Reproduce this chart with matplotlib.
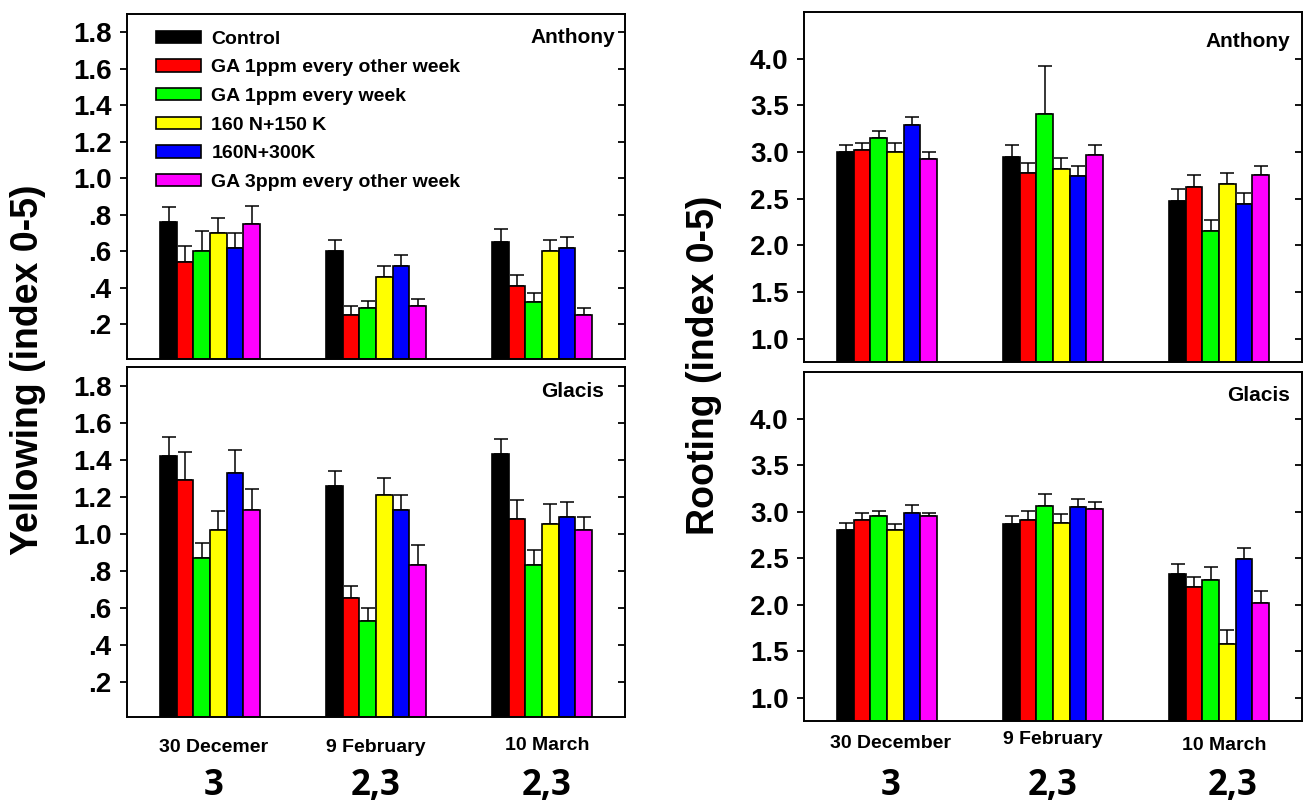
import numpy as np
import matplotlib
matplotlib.use("Agg")
import matplotlib.pyplot as plt
from matplotlib.patches import Patch
import matplotlib.transforms as mtransforms

plt.rcParams['font.family'] = ['Liberation Sans', 'DejaVu Sans']
plt.rcParams['font.weight'] = 'bold'

treatments = ["Control", "GA 1ppm every other week", "GA 1ppm every week",
              "160 N+150 K", "160N+300K", "GA 3ppm every other week"]
colors = ["#000000", "#ff0000", "#00ff00", "#ffff00", "#0000ff", "#ff00ff"]
dates_left = ["30 Decemer", "9 February", "10 March"]
dates_right = ["30 December", "9 February", "10 March"]
bottom_labels = ["3", "2,3", "2,3"]

# values[treatment][date]
yel_anthony = [[0.76, 0.60, 0.65], [0.54, 0.25, 0.41], [0.60, 0.29, 0.32],
               [0.70, 0.46, 0.60], [0.62, 0.52, 0.62], [0.75, 0.30, 0.25]]
yel_anthony_err = [[0.08, 0.06, 0.07], [0.09, 0.05, 0.06], [0.11, 0.04, 0.05],
                   [0.08, 0.06, 0.06], [0.08, 0.06, 0.06], [0.10, 0.04, 0.04]]
yel_glacis = [[1.42, 1.26, 1.43], [1.29, 0.65, 1.08], [0.87, 0.53, 0.83],
              [1.02, 1.21, 1.05], [1.33, 1.13, 1.09], [1.13, 0.83, 1.02]]
yel_glacis_err = [[0.10, 0.08, 0.08], [0.15, 0.07, 0.10], [0.08, 0.07, 0.08],
                  [0.10, 0.09, 0.11], [0.12, 0.08, 0.08], [0.11, 0.11, 0.07]]
root_anthony = [[3.00, 2.95, 2.47], [3.02, 2.78, 2.62], [3.15, 3.41, 2.15],
                [3.00, 2.82, 2.66], [3.29, 2.74, 2.44], [2.93, 2.97, 2.75]]
root_anthony_err = [[0.07, 0.12, 0.13], [0.08, 0.10, 0.13], [0.08, 0.51, 0.12],
                    [0.10, 0.12, 0.11], [0.08, 0.11, 0.12], [0.07, 0.10, 0.10]]
root_glacis = [[2.80, 2.87, 2.33], [2.91, 2.91, 2.19], [2.95, 3.06, 2.27],
               [2.80, 2.88, 1.58], [2.98, 3.05, 2.49], [2.95, 3.03, 2.02]]
root_glacis_err = [[0.08, 0.08, 0.11], [0.07, 0.10, 0.11], [0.06, 0.13, 0.13],
                   [0.07, 0.09, 0.15], [0.09, 0.09, 0.12], [0.04, 0.07, 0.13]]

W, H = 1304, 807
fig = plt.figure(figsize=(W / 100, H / 100), dpi=100)

def px_axes(l, t, r, b):
    return fig.add_axes([l / W, 1 - b / H, (r - l) / W, (b - t) / H])

ax_tl = px_axes(127, 14, 625, 359)
ax_bl = px_axes(127, 367, 625, 717)
ax_tr = px_axes(804, 12, 1302, 362)
ax_br = px_axes(804, 372, 1302, 721)

x = np.arange(3)
bw = 0.1

def draw(ax, vals, errs, ylim, yticks, yticklabels):
    for i in range(6):
        pos = x + (i - 2.5) * bw
        ax.bar(pos, vals[i], width=bw, color=colors[i], edgecolor='black',
               linewidth=1.2, label=treatments[i], zorder=2)
        ax.errorbar(pos, vals[i], yerr=[np.zeros(3), errs[i]], fmt='none',
                    ecolor='black', elinewidth=1.1, capsize=5, capthick=1.1, zorder=1)
    ax.set_xlim(-0.5, 2.5)
    ax.set_ylim(*ylim)
    ax.set_yticks(yticks)
    ax.set_yticklabels(yticklabels)
    ax.set_xticks([])
    ax.tick_params(axis='y', which='both', left=True, right=True, labelsize=20,
                   length=5, width=1.3, direction='out', pad=6)
    for s in ax.spines.values():
        s.set_linewidth(1.4)
    for lab in ax.get_yticklabels():
        lab.set_fontweight('bold')
    for t in ax.yaxis.get_major_ticks():
        t.tick2line.set_marker(matplotlib.lines.TICKLEFT)

yt_left = [0.2, 0.4, 0.6, 0.8, 1.0, 1.2, 1.4, 1.6, 1.8]
yt_left_lab = [".2", ".4", ".6", ".8", "1.0", "1.2", "1.4", "1.6", "1.8"]
yt_right = [1.0, 1.5, 2.0, 2.5, 3.0, 3.5, 4.0]
yt_right_lab = ["1.0", "1.5", "2.0", "2.5", "3.0", "3.5", "4.0"]

draw(ax_tl, yel_anthony, yel_anthony_err, (0.01, 1.9), yt_left, yt_left_lab)
draw(ax_bl, yel_glacis, yel_glacis_err, (0.01, 1.9), yt_left, yt_left_lab)
draw(ax_tr, root_anthony, root_anthony_err, (0.75, 4.5), yt_right, yt_right_lab)
draw(ax_br, root_glacis, root_glacis_err, (0.75, 4.5), yt_right, yt_right_lab)

# panel titles
ax_tl.text(0.98, 0.933, "Anthony", transform=ax_tl.transAxes, ha='right', va='center',
           fontsize=15, fontweight='bold')
ax_tr.text(0.976, 0.917, "Anthony", transform=ax_tr.transAxes, ha='right', va='center',
           fontsize=15, fontweight='bold')
ax_bl.text(0.958, 0.929, "Glacis", transform=ax_bl.transAxes, ha='right', va='center',
           fontsize=15, fontweight='bold')
ax_br.text(0.976, 0.934, "Glacis", transform=ax_br.transAxes, ha='right', va='center',
           fontsize=15, fontweight='bold')

# legend
handles = [Patch(facecolor=c, edgecolor='black', linewidth=1.2) for c in colors]
ax_tl.legend(handles, treatments, loc='upper left', bbox_to_anchor=(0.058, 0.952),
             frameon=False, handlelength=2.3, handleheight=0.6,
             handletextpad=0.55, labelspacing=0.6, borderpad=0, borderaxespad=0,
             prop={'weight': 'bold', 'size': 14})

# x labels (dates) and bottom numbers
def date_labels(ax, labels, dy):
    tr = mtransforms.blended_transform_factory(ax.transData, fig.transFigure)
    offs = [0.02, 0.0, 0.03]
    for i, lab in enumerate(labels):
        ax.text(x[i] + offs[i], 1 - dy[i] / H, lab, transform=tr, ha='center',
                va='center', fontsize=14, fontweight='bold')
    for i, lab in enumerate(bottom_labels):
        ax.text(x[i] + offs[i] + (0.05 if i == 2 and ax is ax_br else 0), 1 - 786 / H, lab,
                transform=tr, ha='center', va='center', fontsize=25, fontweight='bold',
                family=['Open Sans', 'DejaVu Sans'])

date_labels(ax_bl, dates_left, [748, 748, 745])
date_labels(ax_br, dates_right, [743, 740, 745])

fig.text(28 / W, 1 - 370 / H, "Yellowing (index 0-5)", rotation=90, ha='center',
         va='center', fontsize=27, fontweight='bold')
fig.text(704 / W, 1 - 365 / H, "Rooting (index 0-5)", rotation=90, ha='center',
         va='center', fontsize=27, fontweight='bold')

fig.savefig("out.png", dpi=100)
